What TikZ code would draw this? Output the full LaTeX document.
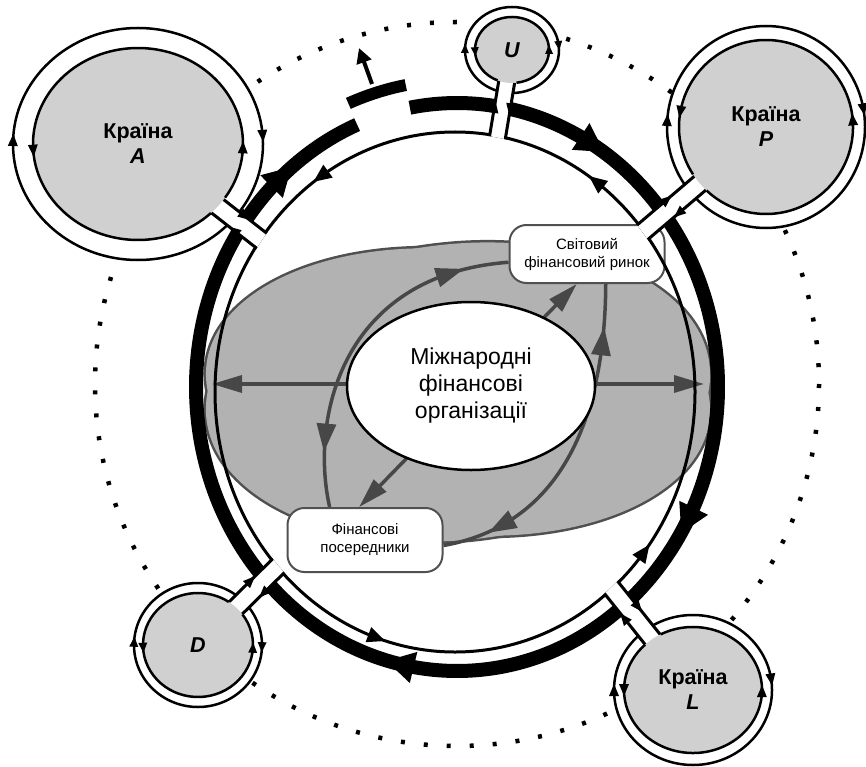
\documentclass[tikz,border=0pt]{standalone}
\usepackage{fontspec}
\setmainfont{Liberation Sans}
\usetikzlibrary{shapes.geometric,calc,decorations.markings,arrows.meta}
\pgfdeclarelayer{back}
\pgfdeclarelayer{mid}
\pgfdeclarelayer{front}
\pgfsetlayers{back,mid,main,front}
\definecolor{satgray}{HTML}{D0D0D0}
\definecolor{cgray}{HTML}{B2B2B2}
\definecolor{cline}{HTML}{505050}
\definecolor{carrow}{HTML}{474747}
% arrowhead on a short elliptic arc: cx,cy,rx,ry,t1,t2,halflength,halfwidth
\newcommand\earr[8]{\path[decorate,decoration={markings,mark=at position 0.5 with {\fill[black] (#7,0) -- (-#7,#8) -- (-#7,-#8) -- cycle;}}] ($(#1,#2)+(#5:#3 and #4)$) arc[start angle=#5,end angle=#6,x radius=#3,y radius=#4];}
\newcommand\barc[2]{($(bc)+(#1:261 and 284)$) arc[start angle=#1,end angle=#2,x radius=261,y radius=284]}
\tikzset{
  centerell/.style={ellipse, draw=black, fill=white, line width=2.5pt, minimum width=248pt, minimum height=168pt, inner sep=0pt, align=center, font=\fontsize{23}{27}\selectfont},
  cbox/.style={draw=cline, fill=white, line width=2pt, rounded corners=17pt, font=\fontsize{15}{18}\selectfont, align=center, inner sep=0pt},
  sat/.style={ellipse, fill=satgray, inner sep=0pt, outer sep=0pt, font=\fontsize{21.5}{25}\selectfont\bfseries, align=center},
  satout/.style={fill=white, draw=black, line width=2.5pt},
  satline/.style={draw=black, line width=2.5pt},
  ringline/.style={line width=3pt},
  band/.style={line width=14pt},
  wall/.style={line width=3pt},
  dotring/.style={line width=4.5pt, dash pattern=on 4pt off 19pt},
  carrowboth/.style={draw=carrow, line width=3.5pt, {Triangle[length=30pt,width=17pt]}-{Triangle[length=30pt,width=17pt]}},
  ccurve/.style={draw=carrow, line width=3.5pt},
  bandF/.style={postaction={decorate,decoration={markings,mark=at position #1 with {\fill[black] (14,0) -- (-14,16) -- (-14,-16) -- cycle;}}}},
  cmF/.style={postaction={decorate,decoration={markings,mark=at position #1 with {\fill[carrow] (14,0) -- (-14,10) -- (-14,-10) -- cycle;}}}},
  cmB/.style={postaction={decorate,decoration={markings,mark=at position #1 with {\fill[carrow] (-14,0) -- (14,10) -- (14,-10) -- cycle;}}}},
  wallF/.style={postaction={decorate,decoration={markings,mark=at position #1 with {\fill[black] (6,0) -- (-6,5) -- (-6,-5) -- cycle;}}}},
  wallB/.style={postaction={decorate,decoration={markings,mark=at position #1 with {\fill[black] (-6,0) -- (6,5) -- (6,-5) -- cycle;}}}},
}
\begin{document}
\begin{tikzpicture}[x=1pt,y=-1pt]
\useasboundingbox (0,0) rectangle (866,767);
\coordinate (ic) at (455,392);
\coordinate (bc) at (457,387);
\coordinate (dc) at (457,384);
\coordinate (gc) at (458,392);
\coordinate (cA) at (138,144);
\coordinate (cU) at (512,50);
\coordinate (cP) at (766,127);
\coordinate (cL) at (693,690);
\coordinate (cD) at (198,645);

% central nodes
\node[centerell] (mfo) at (471,386) {Міжнародні\\фінансові\\організації};
\node[cbox, minimum width=155pt, minimum height=58pt] (rynok) at (587,254) {Світовий\\фінансовий ринок};
\node[cbox, minimum width=155pt, minimum height=64pt] (posr) at (365,540) {Фінансові\\посередники};

\begin{pgfonlayer}{back}
\fill[white] (0,0) rectangle (866,767);
\draw[dotring] (dc) circle[radius=362];
\draw[satout] (cA) ellipse[x radius=125,y radius=116];
\draw[satout] (cU) ellipse[x radius=47,y radius=43];
\draw[satout] (cP) ellipse[x radius=99,y radius=101];
\draw[satout] (cL) ellipse[x radius=79,y radius=75];
\draw[satout] (cD) ellipse[x radius=64,y radius=62];
\draw[draw=cline, line width=5pt, rotate around={6:(gc)}] (gc) ellipse[x radius=253,y radius=148];
\draw[draw=cline, line width=5pt, rotate around={-6:(gc)}] (gc) ellipse[x radius=253,y radius=142];
\fill[cgray, rotate around={6:(gc)}] (gc) ellipse[x radius=253,y radius=148];
\fill[cgray, rotate around={-6:(gc)}] (gc) ellipse[x radius=253,y radius=142];
\end{pgfonlayer}

\begin{pgfonlayer}{mid}
\coordinate (hl) at (212,384);
\coordinate (hr) at (704,384);
\draw[carrowboth] (hl) -- (hr);
\draw[carrowboth] (posr.100) -- (rynok.251);
\draw[ccurve, cmB=0.17, cmF=0.8] (rynok.186) .. controls (340,275) and (310,420) .. (posr.137);
\draw[ccurve, cmB=0.17, cmF=0.82] (rynok.302) .. controls (605,420) and (560,525) .. (posr.356);
\end{pgfonlayer}

\begin{pgfonlayer}{front}
% ring
\draw[ringline] (ic) ellipse[x radius=240,y radius=260];
\draw[band, bandF=0.39] \barc{215.4}{247.5};
\draw[band] \barc{259.6}{279.8};
\draw[band, bandF=0.5] \barc{279.8}{322.1};
\draw[band, bandF=0.76] \barc{322.1}{409.3};
\draw[band, bandF=0.6] \barc{49.3}{137.7};
\draw[band] \barc{137.7}{215.4};
% displaced piece and leak
\draw[line width=12pt] ($(bc)+(247.5:284 and 307)$) arc[start angle=247.5,end angle=259.6,x radius=284,y radius=307];
\coordinate (lk1) at (372,84);
\coordinate (lk2) at (359,48);
\draw[line width=4pt, -{Triangle[length=15pt,width=15pt]}] (lk1) -- (lk2);
% inner ring arrows
\earr{455}{392}{240}{260}{240}{232}{9}{8}
\earr{455}{392}{240}{260}{310}{302}{9}{8}
\earr{455}{392}{240}{260}{42}{34}{9}{8}
\earr{455}{392}{240}{260}{113}{105}{9}{8}
% necks
\begin{scope}[even odd rule]
\clip (-20,-20) rectangle (900,800) (ic) ellipse[x radius=238.5,y radius=258.5];
\foreach \n/\w/\p in {A/9pt/0.32,U/8pt/0.17,P/9pt/0.30,L/9pt/0.26,D/9pt/0.23}{
  \coordinate (\n1) at ($(c\n)!\w!90:(ic)$);
  \coordinate (\n2) at ($(c\n)!\w!-90:(ic)$);
  \coordinate (\n3) at ($(ic)!\w!-90:(c\n)$);
  \coordinate (\n4) at ($(ic)!\w!90:(c\n)$);
  \fill[white] (\n1) -- (\n3) -- (\n4) -- (\n2) -- cycle;
  \draw[wall, wallF=\p] (\n1) -- (\n3);
  \draw[wall, wallB=\p] (\n2) -- (\n4);
}
\end{scope}
% satellites
\node[sat, minimum width=210pt, minimum height=192pt] (A) at (cA) {Країна\\\textit{A}};
\draw[satline] ($(cA)+(46:105 and 96)$) arc[start angle=46,end angle=394,x radius=105,y radius=96];
\node[sat, minimum width=74pt, minimum height=66pt] (U) at (cU) {\textit{U}};
\draw[satline] ($(cU)+(113:37 and 33)$) arc[start angle=113,end angle=443,x radius=37,y radius=33];
\node[sat, minimum width=174pt, minimum height=174pt] (P) at (cP) {Країна\\\textit{P}};
\draw[satline] ($(cP)+(147:87 and 87)$) arc[start angle=147,end angle=493,x radius=87,y radius=87];
\node[sat, minimum width=138pt, minimum height=126pt] (L) at (cL) {Країна\\\textit{L}};
\draw[satline] ($(cL)+(242:69 and 63)$) arc[start angle=242,end angle=586,x radius=69,y radius=63];
\node[sat, minimum width=110pt, minimum height=104pt] (D) at (cD) {\textit{D}};
\draw[satline] ($(cD)+(324:55 and 52)$) arc[start angle=324,end angle=664,x radius=55,y radius=52];
% satellite arrows: outer clockwise, inner counter-clockwise
\earr{138}{144}{125}{116}{176}{188}{6}{5}
\earr{138}{144}{125}{116}{350}{362}{6}{5}
\earr{138}{144}{105}{96}{182}{170}{6}{5}
\earr{138}{144}{105}{96}{8}{-4}{6}{5}
\earr{766}{127}{99}{101}{178}{190}{6}{5}
\earr{766}{127}{99}{101}{344}{356}{6}{5}
\earr{766}{127}{87}{87}{196}{184}{6}{5}
\earr{766}{127}{87}{87}{1}{-11}{6}{5}
\earr{693}{690}{79}{75}{173}{187}{6}{5}
\earr{693}{690}{79}{75}{345}{359}{6}{5}
\earr{693}{690}{69}{63}{187}{173}{6}{5}
\earr{693}{690}{69}{63}{8}{-6}{6}{5}
\earr{198}{645}{64}{62}{176}{190}{5}{4.5}
\earr{198}{645}{64}{62}{355}{369}{5}{4.5}
\earr{198}{645}{55}{52}{184}{170}{5}{4.5}
\earr{198}{645}{55}{52}{10}{-4}{5}{4.5}
\earr{512}{50}{47}{43}{173}{191}{4.5}{4}
\earr{512}{50}{47}{43}{345}{363}{4.5}{4}
\earr{512}{50}{37}{33}{186}{168}{4.5}{4}
\earr{512}{50}{37}{33}{8}{-10}{4.5}{4}
\end{pgfonlayer}
\end{tikzpicture}
\end{document}
